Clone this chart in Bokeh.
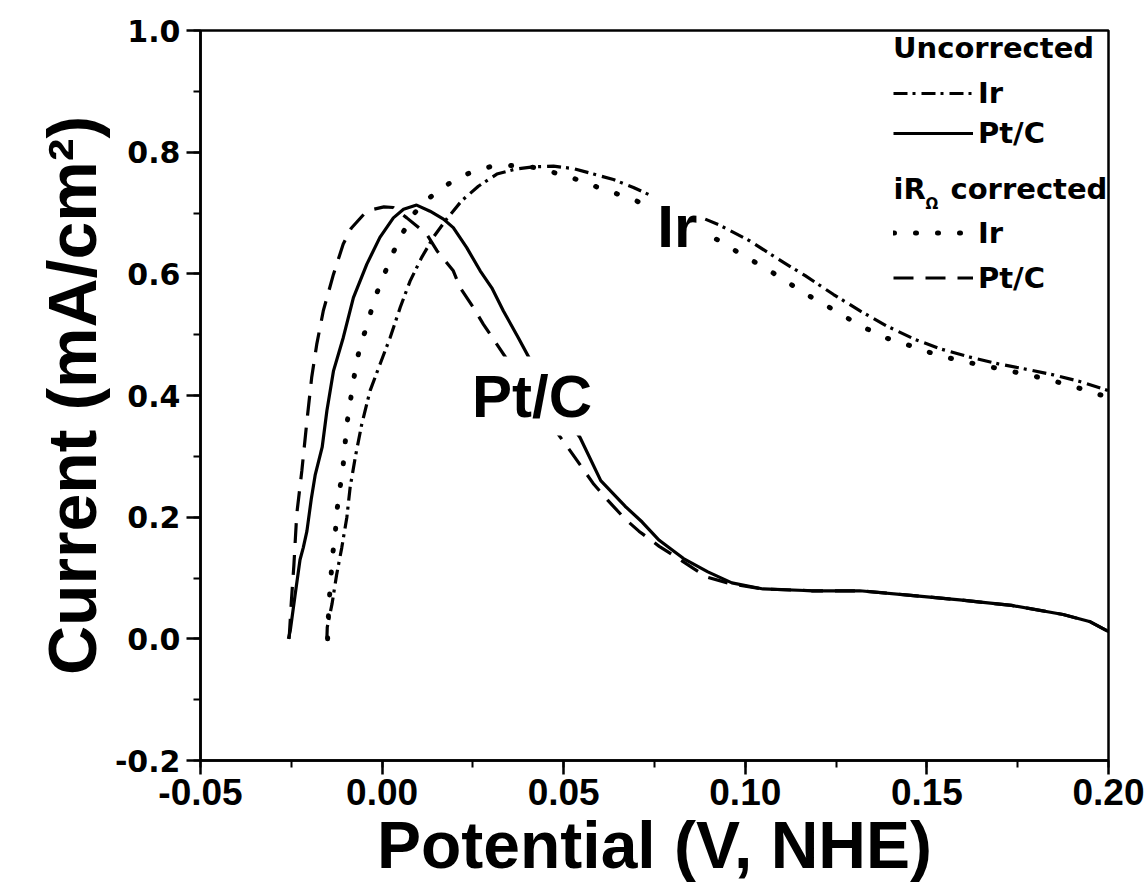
from bokeh.plotting import figure
from bokeh.models import Legend, LegendItem, Label, SingleIntervalTicker, NumeralTickFormatter
from bokeh.embed import file_html
from bokeh.resources import INLINE

# ---- data ----
# Uncorrected Ir (dash-dot)
ir_unc_x = [-0.0152, -0.0151, -0.0138, -0.0125, -0.0111, -0.0097, -0.0088, -0.0074, -0.0056, -0.0033,
            -0.0006, 0.0022, 0.0050, 0.0077, 0.0109, 0.0141, 0.0175, 0.0219, 0.0265, 0.0316,
            0.0366, 0.0417, 0.0472, 0.0527, 0.0582, 0.0637, 0.0692, 0.0800, 0.0926, 0.1013,
            0.1091, 0.1165, 0.1243, 0.1316, 0.1390, 0.1468, 0.1541, 0.1619, 0.1697, 0.1775,
            0.1848, 0.1921, 0.2000]
ir_unc_y = [0.000, 0.019, 0.057, 0.106, 0.150, 0.200, 0.249, 0.298, 0.353, 0.408,
            0.451, 0.495, 0.545, 0.588, 0.627, 0.660, 0.688, 0.720, 0.744, 0.764,
            0.772, 0.776, 0.777, 0.773, 0.764, 0.755, 0.742, 0.712, 0.681, 0.654,
            0.624, 0.597, 0.566, 0.539, 0.514, 0.492, 0.476, 0.463, 0.452, 0.443,
            0.434, 0.423, 0.408]

# Uncorrected Pt/C (solid)
pt_unc_x = [-0.0258, -0.0253, -0.0240, -0.0226, -0.0217, -0.0207, -0.0195, -0.0184, -0.0165, -0.0152,
            -0.0134, -0.0107, -0.0079, -0.0042, -0.0006, 0.0031, 0.0059, 0.0095, 0.0132, 0.0169,
            0.0196, 0.0233, 0.0270, 0.0302, 0.0334, 0.0375, 0.0420, 0.0476, 0.0545, 0.0602,
            0.0669, 0.0716, 0.0763, 0.0830, 0.0897, 0.0963, 0.1049, 0.1182, 0.1315, 0.1448,
            0.1590, 0.1733, 0.1875, 0.1950, 0.2000]
pt_unc_y = [0.000, 0.013, 0.070, 0.130, 0.150, 0.177, 0.230, 0.270, 0.315, 0.375,
            0.440, 0.495, 0.561, 0.616, 0.660, 0.692, 0.706, 0.713, 0.703, 0.690,
            0.676, 0.643, 0.605, 0.577, 0.539, 0.495, 0.445, 0.391, 0.331, 0.260,
            0.218, 0.192, 0.162, 0.132, 0.110, 0.092, 0.082, 0.079, 0.079, 0.072,
            0.064, 0.055, 0.040, 0.028, 0.012]

# iR corrected Ir (dotted)
ir_cor_x = [-0.0150, -0.0148, -0.0145, -0.0141, -0.0136, -0.0129, -0.0125, -0.0117, -0.0107, -0.0097,
            -0.0083, -0.0070, -0.0056, -0.0038, -0.0024, -0.0001, 0.0022, 0.0050, 0.0086, 0.0128,
            0.0183, 0.0238, 0.0297, 0.0357, 0.0417, 0.0470, 0.0527, 0.0586, 0.0644, 0.0700,
            0.0800, 0.0876, 0.0931, 0.0986, 0.1045, 0.1105, 0.1160, 0.1217, 0.1273, 0.1330,
            0.1385, 0.1444, 0.1501, 0.1559, 0.1617, 0.1674, 0.1731, 0.1793, 0.1848, 0.1905,
            0.1963, 0.2000]
ir_cor_y = [0.000, 0.035, 0.068, 0.101, 0.139, 0.172, 0.208, 0.243, 0.287, 0.353,
            0.408, 0.457, 0.490, 0.520, 0.555, 0.588, 0.624, 0.660, 0.698, 0.724,
            0.748, 0.765, 0.776, 0.778, 0.775, 0.767, 0.757, 0.744, 0.732, 0.720,
            0.690, 0.669, 0.654, 0.633, 0.613, 0.591, 0.569, 0.550, 0.530, 0.511,
            0.495, 0.484, 0.472, 0.462, 0.454, 0.447, 0.440, 0.432, 0.424, 0.415,
            0.403, 0.398]

# iR corrected Pt/C (dashed)
pt_cor_x = [-0.0256, -0.0250, -0.0243, -0.0235, -0.0221, -0.0207, -0.0194, -0.0180, -0.0162, -0.0134,
            -0.0107, -0.0085, -0.0050, -0.0024, 0.0005, 0.0031, 0.0068, 0.0123, 0.0151, 0.0196, 0.0215, 0.0251,
            0.0279, 0.0360, 0.0435, 0.0472, 0.0518, 0.0583, 0.0621, 0.0669, 0.0707, 0.0763,
            0.0800, 0.0859, 0.0897, 0.0963, 0.1049, 0.1182, 0.1315, 0.1448, 0.1590, 0.1733,
            0.1875, 0.1950, 0.2000]
pt_cor_y = [0.000, 0.060, 0.120, 0.205, 0.276, 0.358, 0.429, 0.484, 0.539, 0.599,
            0.649, 0.675, 0.698, 0.706, 0.710, 0.709, 0.692, 0.665, 0.638, 0.605, 0.577, 0.545,
            0.517, 0.445, 0.380, 0.347, 0.309, 0.254, 0.228, 0.197, 0.177, 0.152,
            0.138, 0.115, 0.101, 0.090, 0.082, 0.079, 0.079, 0.072, 0.064, 0.055,
            0.040, 0.028, 0.012]

x_title = "Potential (V, NHE)"
y_title = "Current (mA/cm\u00b2)"
legend_head_1 = "Uncorrected"
legend_names = ["Ir", "Pt/C"]

# ---- figure ----
p = figure(width=1146, height=890, x_range=(-0.05, 0.20), y_range=(-0.2, 1.0),
           output_backend="svg", toolbar_location=None,
           min_border_left=200, min_border_right=38, min_border_top=30, min_border_bottom=130,
           background_fill_color="white", border_fill_color="white")
p.grid.visible = False
p.outline_line_color = "black"
p.outline_line_width = 2.5

p.xaxis.ticker = SingleIntervalTicker(interval=0.05, num_minor_ticks=2)
p.yaxis.ticker = SingleIntervalTicker(interval=0.2, num_minor_ticks=2)
p.xaxis.formatter = NumeralTickFormatter(format="0.00")
p.yaxis.formatter = NumeralTickFormatter(format="0.0")

for ax in (p.xaxis[0], p.yaxis[0]):
    ax.axis_line_width = 2.5
    ax.axis_line_color = "black"
    ax.major_tick_line_width = 2.5
    ax.minor_tick_line_width = 2
    ax.major_tick_out = 14
    ax.major_tick_in = 0
    ax.minor_tick_out = 7
    ax.minor_tick_in = 0
    ax.major_label_text_color = "black"
    ax.major_label_text_font_style = "bold"
    ax.axis_label_text_font = "Liberation Sans"
    ax.axis_label_text_font_style = "bold"
    ax.axis_label_text_color = "black"

p.xaxis.axis_label_text_font_size = "66px"
p.yaxis.axis_label_text_font_size = "68px"
p.xaxis.major_label_text_font = "Liberation Sans"
p.xaxis.major_label_text_font_size = "37px"
p.xaxis.major_label_standoff = 4
p.xaxis.axis_label_standoff = 0
p.yaxis.major_label_text_font = "DejaVu Sans"
p.yaxis.major_label_text_font_size = "30px"
p.yaxis.major_label_standoff = 6
p.yaxis.axis_label_standoff = 2
p.xaxis.axis_label = x_title
p.yaxis.axis_label = y_title

r_ir_u = p.line(ir_unc_x, ir_unc_y, line_color="black", line_width=3.2, line_dash="14 5 3 6")
r_pt_u = p.line(pt_unc_x, pt_unc_y, line_color="black", line_width=3.2)
r_ir_c = p.line(ir_cor_x, ir_cor_y, line_color="black", line_width=5, line_dash="1 21", line_cap="round")
r_pt_c = p.line(pt_cor_x, pt_cor_y, line_color="black", line_width=3.2, line_dash="20 12")

common = dict(orientation="vertical", padding=0, margin=0, spacing=0, glyph_width=80,
              label_standoff=5, label_text_font="DejaVu Sans", label_text_font_style="bold",
              label_text_font_size="29px", label_text_color="black",
              border_line_color=None, background_fill_alpha=0)

leg1 = Legend(items=[LegendItem(label=legend_names[0], renderers=[r_ir_u]),
                     LegendItem(label=legend_names[1], renderers=[r_pt_u])],
              title=legend_head_1, title_text_font="DejaVu Sans", title_text_font_style="bold",
              title_text_font_size="29px", title_text_color="black", title_standoff=8,
              glyph_height=40, label_height=40, location=(693, 607), **common)
leg2 = Legend(items=[LegendItem(label=legend_names[0], renderers=[r_ir_c]),
                     LegendItem(label=legend_names[1], renderers=[r_pt_c])],
              glyph_height=45, label_height=45, location=(693, 460), **common)
p.add_layout(leg1)
p.add_layout(leg2)

txt = dict(x_units="screen", y_units="screen", text_font="DejaVu Sans", text_font_style="bold",
           text_color="black", text_baseline="alphabetic")
p.add_layout(Label(x=693, y=572, text="iR", text_font_size="29px", **txt))
p.add_layout(Label(x=725, y=557, text="\u03a9", text_font_size="15px", **txt))
p.add_layout(Label(x=750, y=572, text="corrected", text_font_size="29px", **txt))

lab = dict(text_font="Liberation Sans", text_font_style="bold", text_font_size="60px",
           text_color="black", text_baseline="alphabetic",
           background_fill_color="white", background_fill_alpha=1.0, padding=6)
p.add_layout(Label(x=0.0741, y=0.677, text="Ir", **lab))
p.add_layout(Label(x=0.0231, y=0.399, text="Pt/C", **lab))

open("out.html", "w").write(file_html(p, INLINE))
